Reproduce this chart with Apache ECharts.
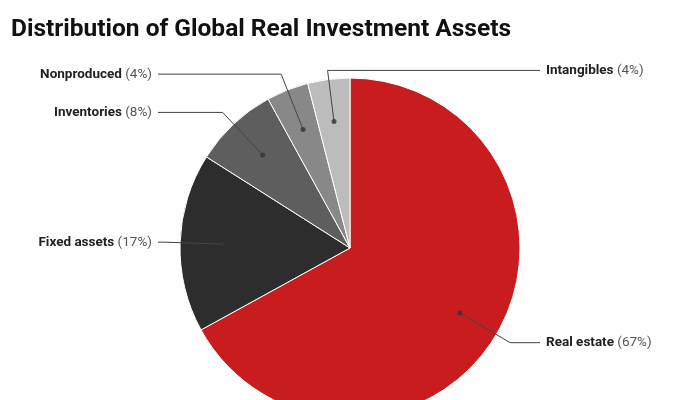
<!DOCTYPE html>
<html><head><meta charset="utf-8">
<script src="https://cdn.jsdelivr.net/npm/echarts@6/dist/echarts.min.js"></script>
<style>html,body{margin:0;padding:0;background:#fff}#c{width:700px;height:400px}</style>
</head><body><div id="c"></div>
<script>
const categories = ['Real estate', 'Fixed assets', 'Inventories', 'Nonproduced', 'Intangibles'];
const shares = [67, 17, 8, 4, 4];
const colors = ['#c81c1e', '#2d2d2d', '#5e5e5e', '#888888', '#bcbcbc'];
const labelSide = ['right', 'left', 'left', 'left', 'right'];

const CX = 350, CY = 248, R = 170;
const lineLen = [16, 16, 16, 17, 9];
const leftEnd = 158, rightEnd = 540, gap = 6;

const total = shares.reduce((a, b) => a + b, 0);
const mids = [];
let acc = 0;
shares.forEach(v => { mids.push(acc + v / 2); acc += v; });
function pt(frac, r) {
  const a = frac / total * 2 * Math.PI;
  return [CX + r * Math.sin(a), CY - r * Math.cos(a)];
}
const pieData = categories.map((c, i) => ({name: c, value: shares[i]}));

const chart = echarts.init(document.getElementById('c'), null, {renderer: 'canvas'});
chart.setOption({
  animation: false,
  color: colors,
  title: {
    text: 'Distribution of Global Real Investment Assets',
    left: 6, top: 12,
    textStyle: {fontFamily: 'Roboto', fontWeight: 'bold', fontSize: 24.5, color: '#111'}
  },
  polar: {center: [CX, CY], radius: R},
  angleAxis: {type: 'value', min: 0, max: total, startAngle: 90, clockwise: true, show: false},
  radiusAxis: {type: 'value', min: 0, max: 1, show: false},
  series: [{
    type: 'pie',
    z: 1,
    center: [CX, CY],
    radius: R,
    startAngle: 90,
    clockwise: true,
    itemStyle: {borderColor: '#fff', borderWidth: 1},
    label: {show: false},
    labelLine: {show: false},
    emphasis: {disabled: true},
    data: pieData
  }, {
    type: 'pie',
    z: 5,
    silent: true,
    center: [CX, CY],
    radius: R,
    startAngle: 90,
    clockwise: true,
    itemStyle: {color: 'rgba(0,0,0,0)', borderWidth: 0},
    label: {
      show: true,
      position: 'outside',
      formatter: '{n|{b}} {p|({c}%)}',
      rich: {
        n: {fontFamily: 'Roboto', fontWeight: 'bold', fontSize: 13.5, color: '#222'},
        p: {fontFamily: 'Roboto', fontWeight: 'normal', fontSize: 13.5, color: '#555'}
      }
    },
    labelLine: {show: true, showAbove: true, smooth: false, lineStyle: {color: '#444', width: 1}},
    labelLayout: function (p) {
      const i = p.dataIndex;
      const dot = pt(mids[i], R * 0.75);
      const bend = pt(mids[i], R + lineLen[i]);
      const right = labelSide[i] === 'right';
      const endX = right ? rightEnd : leftEnd;
      return {
        x: right ? endX + gap : endX - gap,
        y: bend[1],
        align: right ? 'left' : 'right',
        verticalAlign: 'middle',
        labelLinePoints: [dot, bend, [endX, bend[1]]]
      };
    },
    emphasis: {disabled: true},
    data: pieData
  }, {
    type: 'scatter',
    coordinateSystem: 'polar',
    symbolSize: 5,
    silent: true,
    z: 10,
    itemStyle: {color: '#333'},
    data: mids.map(m => [0.75, m])
  }]
});
</script>
</body></html>
